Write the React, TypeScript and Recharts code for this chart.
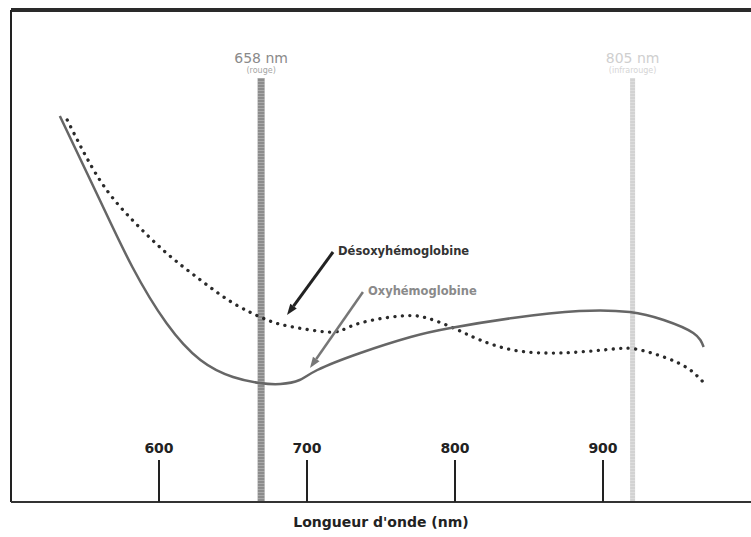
import React from "react";
import { LineChart, Line, XAxis, YAxis, ReferenceLine, Label } from "recharts";

// Wavelength (nm) and relative absorption (arbitrary units)
const oxyWavelengths = [533, 560, 582, 605, 628, 650, 668, 682, 695, 707, 736, 770, 797, 839, 884, 918, 941, 961, 968];
const oxyValues = [386, 302, 235, 179, 142, 125, 119, 118, 122, 132, 149, 165, 174, 184, 191, 190, 182, 169, 155];

const deoxyWavelengths = [538, 560, 582, 605, 628, 650, 670, 684, 707, 722, 736, 763, 781, 799, 817, 839, 862, 884, 907, 922, 941, 957, 967];
const deoxyValues = [382, 322, 282, 249, 222, 199, 184, 177, 171, 171, 179, 186, 184, 174, 162, 152, 149, 150, 153, 153, 145, 134, 121];

const xTicks = [600, 700, 800, 900];
const xDomain = [500, 1000];
const yDomain = [0, 492];

// marker lines (drawn positions) and labels
const redLineX = 669;
const irLineX = 920;
const markerTop = 424;
const redLabel = "658 nm";
const redSub = "(rouge)";
const irLabel = "805 nm";
const irSub = "(infrarouge)";

// annotation arrows: [startX, startY, tipX, tipY]
const deoxyArrow = [717.6, 250, 686.5, 187];
const oxyArrow = [737.8, 210, 702, 134];
const deoxyName = "Désoxyhémoglobine";
const oxyName = "Oxyhémoglobine";
const xTitle = "Longueur d'onde (nm)";

const oxyData = oxyWavelengths.map((x, i) => ({ x, v: oxyValues[i] }));
const deoxyData = deoxyWavelengths.map((x, i) => ({ x, v: deoxyValues[i] }));

const FONT = "'DejaVu Sans', Verdana, sans-serif";

const Tick = (props: any) => {
  const { x, y, payload } = props;
  return (
    <g>
      <line x1={x} y1={y} x2={x} y2={y - 42} stroke="#222" strokeWidth={2} />
      <text x={x} y={y - 49} textAnchor="middle" fontFamily={FONT} fontWeight="bold" fontSize={14} fill="#222">
        {payload.value}
      </text>
    </g>
  );
};

const renderTitle = (props: any) => {
  const vb = props.viewBox || {};
  return (
    <text x={vb.x + vb.width / 2} y={vb.y + 25} textAnchor="middle" fontFamily={FONT} fontWeight="bold" fontSize={14} fill="#222">
      {xTitle}
    </text>
  );
};

const makeBorder = (color: string, width: number) => (props: any) => {
  const { x1, y1, x2, y2 } = props;
  return <line x1={x1} y1={y1} x2={x2} y2={y2} stroke={color} strokeWidth={width} />;
};

const makeMarker = (color: string, width: number, label: string, sub: string, labelColor: string, subColor: string) => (props: any) => {
  const { x1, y1, x2, y2 } = props;
  const top = Math.min(y1, y2);
  const bot = Math.max(y1, y2);
  return (
    <g>
      <line x1={x1} y1={top} x2={x2} y2={bot} stroke={color} strokeWidth={width} />
      <line x1={x1} y1={top} x2={x2} y2={bot} stroke="#ffffff" strokeOpacity={0.25} strokeWidth={width} strokeDasharray="1 2" />
      <text x={x1} y={top - 15} textAnchor="middle" fontFamily={FONT} fontSize={14} fill={labelColor}>
        {label}
      </text>
      <text x={x1} y={top - 5} textAnchor="middle" fontFamily={FONT} fontSize={8} fill={subColor}>
        {sub}
      </text>
    </g>
  );
};

const makeArrow = (color: string, width: number, text: string, textColor: string) => (props: any) => {
  const { x1, y1, x2, y2 } = props;
  const dx = x2 - x1;
  const dy = y2 - y1;
  const len = Math.sqrt(dx * dx + dy * dy) || 1;
  const ux = dx / len;
  const uy = dy / len;
  const head = 11;
  const hw = 4;
  const bx = x2 - ux * head;
  const by = y2 - uy * head;
  const p1 = `${x2},${y2}`;
  const p2 = `${bx - uy * hw},${by + ux * hw}`;
  const p3 = `${bx + uy * hw},${by - ux * hw}`;
  return (
    <g>
      <line x1={x1} y1={y1} x2={bx} y2={by} stroke={color} strokeWidth={width} />
      <polygon points={`${p1} ${p2} ${p3}`} fill={color} />
      <text x={x1 + 5} y={y1 + 3} fontFamily={FONT} fontWeight="bold" fontSize={11.5} fill={textColor}>
        {text}
      </text>
    </g>
  );
};

export default function App() {
  return (
    <div style={{ position: "absolute", left: 0, top: 0, background: "#fff" }}>
      <LineChart width={751} height={537} margin={{ top: 10, right: 0, bottom: 0, left: 11 }}>
        <XAxis
          type="number"
          dataKey="x"
          domain={xDomain}
          ticks={xTicks}
          allowDataOverflow
          height={35}
          tickSize={0}
          tickMargin={0}
          tickLine={false}
          axisLine={{ stroke: "#333", strokeWidth: 2 }}
          tick={<Tick />}
        >
          <Label content={renderTitle} />
        </XAxis>
        <YAxis hide type="number" domain={yDomain} allowDataOverflow />
        <ReferenceLine
          segment={[{ x: xDomain[0], y: yDomain[1] }, { x: xDomain[1], y: yDomain[1] }]}
          ifOverflow="visible"
          shape={makeBorder("#2a2a2a", 4)}
        />
        <ReferenceLine
          segment={[{ x: xDomain[0], y: yDomain[0] }, { x: xDomain[0], y: yDomain[1] }]}
          ifOverflow="visible"
          shape={makeBorder("#222", 2)}
        />
        <ReferenceLine
          segment={[{ x: redLineX, y: markerTop }, { x: redLineX, y: 0 }]}
          ifOverflow="visible"
          shape={makeMarker("#8c8c8c", 7, redLabel, redSub, "#8a8a8a", "#a5a5a5")}
        />
        <ReferenceLine
          segment={[{ x: irLineX, y: markerTop }, { x: irLineX, y: 0 }]}
          ifOverflow="visible"
          shape={makeMarker("#d2d2d2", 5, irLabel, irSub, "#cfcfcf", "#d5d5d5")}
        />
        <Line
          data={deoxyData}
          dataKey="v"
          type="natural"
          dot={false}
          stroke="#2a2a2a"
          strokeWidth={3.3}
          strokeDasharray="0.1 7.4"
          strokeLinecap="round"
          isAnimationActive={false}
        />
        <Line
          data={oxyData}
          dataKey="v"
          type="natural"
          dot={false}
          stroke="#666"
          strokeWidth={2.5}
          isAnimationActive={false}
        />
        <ReferenceLine
          segment={[{ x: deoxyArrow[0], y: deoxyArrow[1] }, { x: deoxyArrow[2], y: deoxyArrow[3] }]}
          ifOverflow="visible"
          shape={makeArrow("#222", 3, deoxyName, "#333")}
        />
        <ReferenceLine
          segment={[{ x: oxyArrow[0], y: oxyArrow[1] }, { x: oxyArrow[2], y: oxyArrow[3] }]}
          ifOverflow="visible"
          shape={makeArrow("#777", 2.5, oxyName, "#8a8a8a")}
        />
      </LineChart>
    </div>
  );
}
